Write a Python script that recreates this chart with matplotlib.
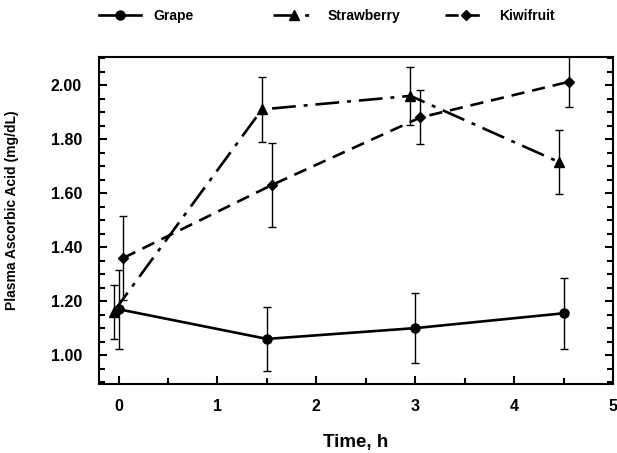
import matplotlib.pyplot as plt
from matplotlib.lines import Line2D
from matplotlib.ticker import MultipleLocator, FormatStrFormatter

plt.rcParams['font.family'] = ['Liberation Sans', 'DejaVu Sans']
plt.rcParams['font.weight'] = 'bold'

time_h = [0, 1.5, 3, 4.5]

grape = [1.17, 1.06, 1.10, 1.155]
grape_err = [0.147, 0.12, 0.13, 0.132]

strawberry = [1.16, 1.91, 1.96, 1.715]
strawberry_err = [0.10, 0.12, 0.108, 0.12]

kiwifruit = [1.36, 1.63, 1.88, 2.012]
kiwifruit_err = [0.156, 0.155, 0.10, 0.095]

# small horizontal shift so the bars don't overlap
shift = {'Grape': 0.0, 'Strawberry': -0.05, 'Kiwifruit': 0.05}

fig = plt.figure(figsize=(6.17, 4.53), dpi=100)
ax = fig.add_axes([0.16, 0.1523, 0.834, 0.7225])

series = [
    ('Grape', grape, grape_err, 'o', '-', 6.5),
    ('Strawberry', strawberry, strawberry_err, '^', (0, (9, 3, 1.5, 3)), 6.5),
    ('Kiwifruit', kiwifruit, kiwifruit_err, 'D', (0, (5, 3)), 5),
]

for name, vals, err, mk, ls, ms in series:
    xs = [t + shift[name] for t in time_h]
    ax.errorbar(xs, vals, yerr=err, color='black', ecolor='black',
                elinewidth=1, capsize=3, capthick=1, linewidth=1.9,
                linestyle=ls, marker=mk, markersize=ms)

ax.set_xlim(-0.2, 5.0)
ax.set_ylim(0.893, 2.105)
ax.xaxis.set_major_locator(MultipleLocator(1))
ax.xaxis.set_minor_locator(MultipleLocator(0.5))
ax.yaxis.set_minor_locator(MultipleLocator(0.05))
ax.yaxis.set_major_formatter(FormatStrFormatter('%.2f'))
ax.set_yticks([1.0, 1.2, 1.4, 1.6, 1.8, 2.0])

ax.tick_params(which='both', direction='in', right=True, top=False, width=1.5)
ax.tick_params(which='major', length=6, labelsize=11.5)
ax.tick_params(axis='x', which='major', pad=11)
ax.tick_params(axis='y', which='major', pad=12)
ax.tick_params(which='minor', length=4)
for s in ax.spines.values():
    s.set_linewidth(1.5)

ax.set_xlabel('Time, h', fontsize=13.5, fontweight='bold', labelpad=14)
ax.set_ylabel('Plasma Ascorbic Acid (mg/dL)', fontsize=10, fontweight='bold')
ax.yaxis.set_label_coords(-0.155, 0.53)

# legend entries sit at fixed spots above the plot
leg_x = [99, 273, 445]
for (name, vals, err, mk, ls, ms), lx in zip(series, leg_x):
    h = Line2D([], [], color='black', linewidth=1.9, linestyle=ls, marker=mk, markersize=ms)
    fig.legend([h], [name], loc='center left', bbox_to_anchor=(lx / 617, 1 - 16 / 453),
               frameon=False, fontsize=10, handlelength=3.0, handletextpad=0.9,
               borderpad=0, borderaxespad=0)

plt.savefig('out.png', dpi=100)
